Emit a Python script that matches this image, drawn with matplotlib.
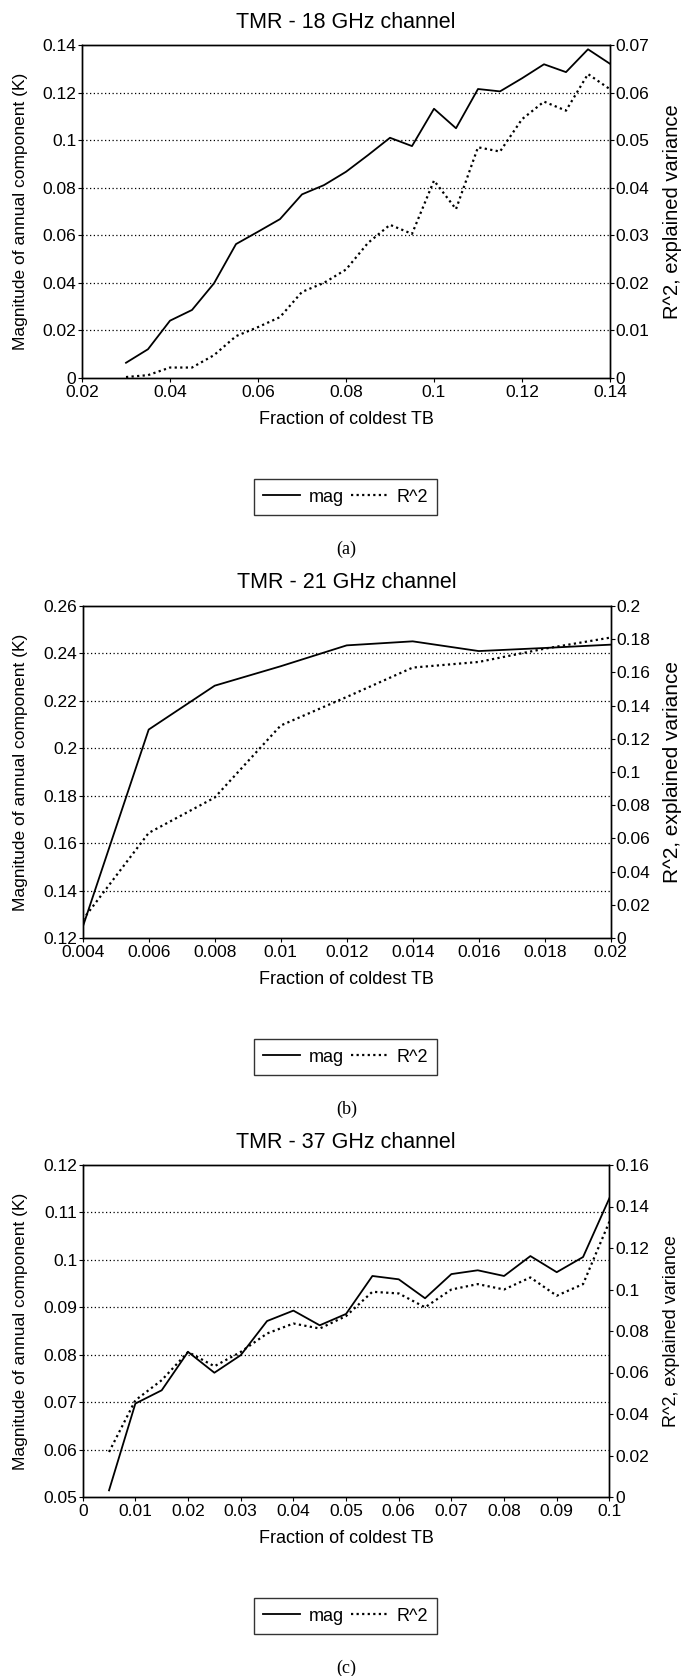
import numpy as np
import matplotlib
matplotlib.use("Agg")
import matplotlib.pyplot as plt
from matplotlib.ticker import FuncFormatter

plt.rcParams['font.family'] = ['Liberation Sans', 'DejaVu Sans']

# Panel (a) - 18 GHz
a_x = [0.03, 0.035, 0.04, 0.045, 0.05, 0.055, 0.06, 0.065, 0.07, 0.075, 0.08, 0.085,
       0.09, 0.095, 0.1, 0.105, 0.11, 0.115, 0.12, 0.125, 0.13, 0.135, 0.14]
a_mag = [0.0064, 0.0121, 0.0241, 0.0286, 0.0398, 0.0563, 0.0615, 0.0668, 0.0772, 0.0811,
         0.0867, 0.0937, 0.101, 0.0975, 0.1132, 0.105, 0.1215, 0.1205, 0.126, 0.1319,
         0.1286, 0.1382, 0.1321]
a_r2 = [0.0002, 0.0006, 0.0022, 0.0022, 0.0048, 0.0088, 0.0107, 0.0128, 0.0181, 0.020,
        0.0228, 0.0284, 0.0322, 0.0303, 0.0415, 0.0355, 0.0485, 0.0476, 0.0544, 0.0581,
        0.0562, 0.0639, 0.0607]
a_xticks = [0.02, 0.04, 0.06, 0.08, 0.1, 0.12, 0.14]
a_lticks = [0, 0.02, 0.04, 0.06, 0.08, 0.1, 0.12, 0.14]
a_rticks = [0, 0.01, 0.02, 0.03, 0.04, 0.05, 0.06, 0.07]

# Panel (b) - 21 GHz
b_x = [0.004, 0.006, 0.008, 0.01, 0.012, 0.014, 0.016, 0.018, 0.02]
b_mag = [0.1246, 0.2079, 0.2264, 0.2346, 0.2434, 0.2451, 0.241, 0.2423, 0.2437]
b_r2 = [0.011, 0.0633, 0.0846, 0.128, 0.1452, 0.1629, 0.1663, 0.1743, 0.181]
b_xticks = [0.004, 0.006, 0.008, 0.01, 0.012, 0.014, 0.016, 0.018, 0.02]
b_lticks = [0.12, 0.14, 0.16, 0.18, 0.2, 0.22, 0.24, 0.26]
b_rticks = [0, 0.02, 0.04, 0.06, 0.08, 0.1, 0.12, 0.14, 0.16, 0.18, 0.2]

# Panel (c) - 37 GHz
c_x = [0.005, 0.01, 0.015, 0.02, 0.025, 0.03, 0.035, 0.04, 0.045, 0.05,
       0.055, 0.06, 0.065, 0.07, 0.075, 0.08, 0.085, 0.09, 0.095, 0.1]
c_mag = [0.0514, 0.0697, 0.0725, 0.0806, 0.0762, 0.0799, 0.0871, 0.0893, 0.0862, 0.0886,
         0.0966, 0.0959, 0.0919, 0.097, 0.0978, 0.0966, 0.1008, 0.0974, 0.1006, 0.113]
c_r2 = [0.0217, 0.0466, 0.0563, 0.0699, 0.063, 0.0699, 0.0788, 0.0836, 0.0812, 0.0872,
        0.0989, 0.0981, 0.0914, 0.1, 0.1026, 0.1, 0.1058, 0.097, 0.1026, 0.1327]
c_xticks = [0, 0.01, 0.02, 0.03, 0.04, 0.05, 0.06, 0.07, 0.08, 0.09, 0.1]
c_lticks = [0.05, 0.06, 0.07, 0.08, 0.09, 0.1, 0.11, 0.12]
c_rticks = [0, 0.02, 0.04, 0.06, 0.08, 0.1, 0.12, 0.14, 0.16]

W, H = 681, 1676
fig = plt.figure(figsize=(W / 100, H / 100), dpi=100)

fmt = FuncFormatter(lambda v, p: f"{round(v, 6):g}")


def panel(box, title, x, mag, r2, xticks, lticks, rticks, caption, rlab_size):
    left, top, right, bottom = box
    ax = fig.add_axes([left / W, 1 - bottom / H, (right - left) / W, (bottom - top) / H])
    ax2 = ax.twinx()

    l1, = ax.plot(x, mag, color='black', lw=1.3, label='mag')
    l2, = ax2.plot(x, r2, color='black', lw=1.6, ls=(0, (1, 1.5)), label='R^2')

    ax.set_xlim(xticks[0], xticks[-1])
    ax.set_ylim(lticks[0], lticks[-1])
    ax2.set_ylim(rticks[0], rticks[-1])
    ax.set_xticks(xticks)
    ax.set_yticks(lticks)
    ax2.set_yticks(rticks)
    for a in (ax, ax2):
        a.xaxis.set_major_formatter(fmt)
        a.yaxis.set_major_formatter(fmt)
        a.tick_params(labelsize=12.5, length=3, width=0.8, pad=1, direction='out')
        a.tick_params(axis='x', pad=2)
        for s in a.spines.values():
            s.set_linewidth(1.0)

    # dotted horizontal grid from the left axis
    for t in lticks[1:-1]:
        ax.axhline(t, color='black', lw=0.9, ls=(0, (1, 2)), zorder=0)

    # titles / labels placed in pixel coordinates
    cx = (left + right) / 2
    fig.text(cx / W, 1 - (top - 23) / H, title, ha='center', va='center', fontsize=15.5)
    fig.text(cx / W, 1 - (bottom + 41) / H, 'Fraction of coldest TB', ha='center', va='center', fontsize=13)
    fig.text(21 / W, 1 - (top + bottom) / 2 / H, 'Magnitude of annual component (K)',
             rotation=90, ha='center', va='center', fontsize=12.5)
    fig.text(672 / W, 1 - (top + bottom) / 2 / H, 'R^2, explained variance',
             rotation=90, ha='center', va='center', fontsize=rlab_size)

    leg = fig.legend([l1, l2], ['mag', 'R^2'], loc='center', ncol=2,
                     bbox_to_anchor=(345.5 / W, 1 - (bottom + 119) / H),
                     fontsize=13, frameon=True, fancybox=False, handlelength=2.0,
                     handletextpad=0.5, columnspacing=0.4, borderpad=0.5)
    leg.get_frame().set_edgecolor('black')
    leg.get_frame().set_linewidth(1.0)

    fig.text(cx / W, 1 - (bottom + 171) / H, caption, ha='center', va='center',
             fontsize=13, family='Liberation Serif')


panel((82, 45, 610, 378), 'TMR - 18 GHz channel', a_x, a_mag, a_r2,
      a_xticks, a_lticks, a_rticks, '(a)', 14.5)
panel((82.7, 606, 610.7, 938), 'TMR - 21 GHz channel', b_x, b_mag, b_r2,
      b_xticks, b_lticks, b_rticks, '(b)', 15)
panel((82.7, 1165, 609.4, 1497), 'TMR - 37 GHz channel', c_x, c_mag, c_r2,
      c_xticks, c_lticks, c_rticks, '(c)', 13)

fig.savefig('out.png', dpi=100)
